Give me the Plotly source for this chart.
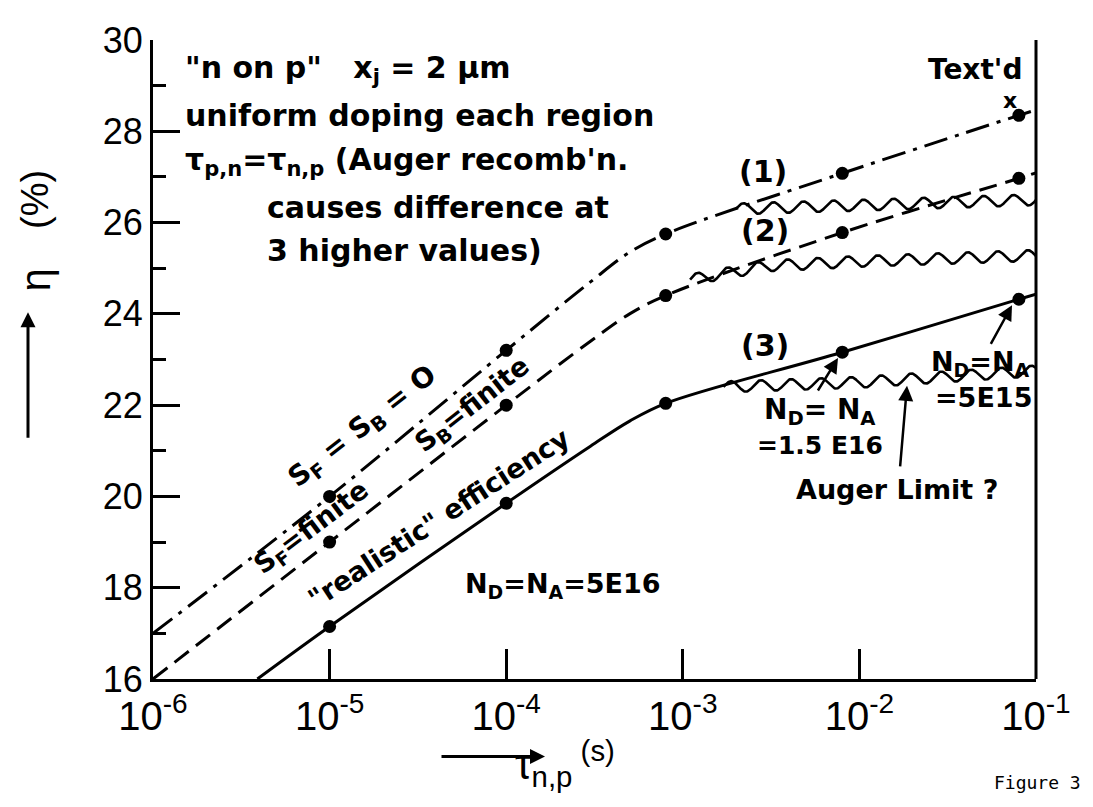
import numpy as np
import plotly.graph_objects as go

# ---------------- data ----------------
# computed points (markers)
tau_pts = [1e-5, 1e-4, 8e-4, 8e-3, 8e-2]
eta1_pts = [20.0, 23.2, 25.75, 27.08, 28.35]   # (1) S_F = S_B = 0
eta2_pts = [19.0, 22.0, 24.4, 25.78, 26.97]    # (2) S_F, S_B finite
eta3_pts = [17.15, 19.85, 22.04, 23.16, 24.32] # (3) "realistic" efficiency

# full curves (incl. the knee near 1e-3)
tau1 = [1e-6, 1e-5, 1e-4, 3e-4, 5e-4, 8e-4, 8e-3, 8e-2, 1e-1]
eta1 = [17.0, 20.0, 23.2, 24.7, 25.35, 25.75, 27.08, 28.35, 28.47]
tau2 = [1e-6, 1e-5, 1e-4, 3e-4, 5e-4, 8e-4, 8e-3, 8e-2, 1e-1]
eta2 = [16.0, 19.0, 22.0, 23.4, 24.0, 24.4, 25.78, 26.97, 27.09]
tau3 = [3.9e-6, 1e-5, 1e-4, 3e-4, 5e-4, 8e-4, 8e-3, 8e-2, 1e-1]
eta3 = [16.0, 17.15, 19.85, 21.1, 21.65, 22.04, 23.16, 24.32, 24.43]

# Auger-limited branches (drawn wavy)
aug1_tau = [2e-3, 1e-2, 1e-1]
aug1_eta = [26.3, 26.38, 26.5]
aug2_tau = [1.1e-3, 3e-3, 1e-2, 1e-1]
aug2_eta = [24.75, 25.05, 25.15, 25.28]
aug3_tau = [1.7e-3, 1e-2, 1e-1]
aug3_eta = [22.4, 22.5, 22.75]

x_tickvals = [1e-6, 1e-5, 1e-4, 1e-3, 1e-2, 1e-1]
x_ticktext = ["10<sup>-6</sup>", "10<sup>-5</sup>", "10<sup>-4</sup>",
              "10<sup>-3</sup>", "10<sup>-2</sup>", "10<sup>-1</sup>"]
y_tickvals = [16, 18, 20, 22, 24, 26, 28, 30]

# ---------------- layout geometry ----------------
OFF = 8                      # page body margin
W, H = 1093 - OFF, 807 - OFF
X0, X1, Y0, Y1 = 153, 1036, 36, 679   # plot area in screenshot pixels
L, T = X0 - OFF, Y0 - OFF
R, B = W - (X1 - OFF), H - (Y1 - OFF)
PW, PH = X1 - X0, Y1 - Y0

def px(x):  # screenshot pixel -> paper x
    return (x - X0) / PW

def py(y):  # screenshot pixel -> paper y
    return (Y1 - y) / PH

INK = "black"

fig = go.Figure()

def wavy_style(taus, etas, period=0.17, amp=0.12):
    """render a line with the hand-drawn wavy line style"""
    lx = np.log10(taus)
    s = np.linspace(lx[0], lx[-1], 600)
    base = np.interp(s, lx, etas)
    return 10 ** s, base + amp * np.sin(2 * np.pi * (s - lx[0]) / period)

for tt, ee in [(aug1_tau, aug1_eta), (aug2_tau, aug2_eta), (aug3_tau, aug3_eta)]:
    wx, wy = wavy_style(tt, ee)
    fig.add_trace(go.Scatter(x=wx, y=wy, mode="lines",
                             line=dict(color=INK, width=2.6), showlegend=False,
                             hoverinfo="skip"))

fig.add_trace(go.Scatter(x=tau1, y=eta1, mode="lines", line_shape="spline",
                         line=dict(color=INK, width=3, dash="24px,8px,4px,8px"),
                         showlegend=False))
fig.add_trace(go.Scatter(x=tau2, y=eta2, mode="lines", line_shape="spline",
                         line=dict(color=INK, width=3, dash="18px,9px"),
                         showlegend=False))
fig.add_trace(go.Scatter(x=tau3, y=eta3, mode="lines", line_shape="spline",
                         line=dict(color=INK, width=3), showlegend=False))
for ee in (eta1_pts, eta2_pts, eta3_pts):
    fig.add_trace(go.Scatter(x=tau_pts, y=ee, mode="markers",
                             marker=dict(color=INK, size=13), showlegend=False))

ann = []

def text(x, y, s, size=30, angle=0, xanchor="center", family="DejaVu Sans"):
    ann.append(dict(x=px(x), y=py(y), xref="paper", yref="paper", text=s,
                    showarrow=False, textangle=angle, xanchor=xanchor,
                    yanchor="middle",
                    font=dict(family=family, size=size, color=INK)))

def arrow(x0, y0, x1, y1, width=2.5, head=2, size=1.2):
    ann.append(dict(x=px(x1), y=py(y1), xref="paper", yref="paper", text="",
                    showarrow=True, ax=x0 - x1, ay=y0 - y1, axref="pixel",
                    ayref="pixel", arrowhead=head, arrowsize=size,
                    arrowwidth=width, arrowcolor=INK))

B_ = lambda s: "<b>" + s + "</b>"

text(183, 66, B_('"n on p"&nbsp;&nbsp; x<sub>j</sub> = 2 μm'), xanchor="left")
text(183, 112, B_("uniform doping each region"), xanchor="left")
text(183, 158, B_("τ<sub>p,n</sub>=τ<sub>n,p</sub> (Auger recomb'n."), xanchor="left")
text(265, 205, B_("causes difference at"), xanchor="left")
text(265, 248, B_("3 higher values)"), xanchor="left")

text(975, 66, B_("Text'd"), size=28)
text(1010, 97, B_("x"), size=22)

text(763, 168, B_("(1)"), size=30)
text(765, 228, B_("(2)"), size=30)
text(765, 343, B_("(3)"), size=30)

text(363, 426, B_("S<sub>F</sub> = S<sub>B</sub> = O"), size=28, angle=-38)
text(312, 528, B_("S<sub>F</sub>=finite"), size=27, angle=-37)
text(473, 404, B_("S<sub>B</sub>=finite"), size=27, angle=-38)
text(438, 517, B_('"realistic" efficiency'), size=27, angle=-33)
text(563, 585, B_("N<sub>D</sub>=N<sub>A</sub>=5E16"), size=27)

text(820, 410, B_("N<sub>D</sub>= N<sub>A</sub>"), size=28)
text(820, 444, B_("=1.5 E16"), size=25)
text(980, 362, B_("N<sub>D</sub>=N<sub>A</sub>"), size=27)
text(983, 396, B_("=5E15"), size=27)
text(897, 488, B_("Auger Limit ?"), size=27)

arrow(817, 390, 838, 356)
arrow(990, 343, 1012, 303)
arrow(900, 466, 907, 384)

# axis titles
text(565, 764, "τ<sub>n,p</sub><sup> (s)</sup>", size=42, family="Liberation Sans")
arrow(440, 757, 545, 757, width=3, head=2, size=1.0)
text(35, 278, "η", size=42, angle=-90, family="Liberation Sans")
text(35, 197, "(%)", size=38, angle=-90, family="Liberation Sans")
arrow(28, 437, 28, 310, width=3, head=2, size=1.0)

text(1083, 783, "Figure 3", size=18, family="DejaVu Sans Mono", xanchor="right")

fig.update_layout(
    width=W, height=H,
    margin=dict(l=L, r=R, t=T, b=B, pad=0),
    paper_bgcolor="white", plot_bgcolor="white",
    annotations=ann,
    xaxis=dict(type="log", range=[-6, -1], tickvals=x_tickvals,
               ticktext=x_ticktext, ticks="inside", ticklen=30, tickwidth=2.5,
               tickcolor=INK, showline=True, linewidth=3, linecolor=INK,
               mirror=False, showgrid=False, zeroline=False,
               tickfont=dict(family="Liberation Sans", size=40, color=INK)),
    yaxis=dict(range=[16, 30], tickvals=y_tickvals, ticks="inside", ticklen=27,
               tickwidth=2.5, tickcolor=INK, showline=True, linewidth=3,
               linecolor=INK, showgrid=False, zeroline=False,
               minor=dict(dtick=1, ticks="inside", ticklen=13, tickwidth=2.5,
                          tickcolor=INK, showgrid=False),
               tickfont=dict(family="Liberation Sans", size=36, color=INK)),
    shapes=[dict(type="line", xref="paper", yref="paper", x0=1, x1=1, y0=0,
                 y1=1, line=dict(color=INK, width=3))],
)

fig.write_html("out.html")
